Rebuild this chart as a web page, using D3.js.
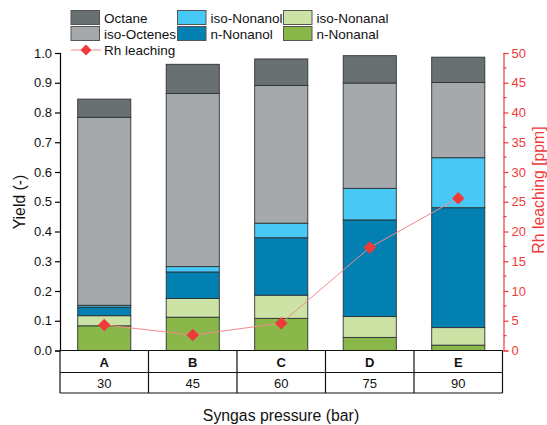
<!DOCTYPE html>
<html>
<head>
<meta charset="utf-8">
<script src="https://cdn.jsdelivr.net/npm/d3@7"></script>
<style>
  html, body { margin: 0; padding: 0; background: #fff; }
  svg { display: block; font-family: "Liberation Sans", Arial, sans-serif; }
</style>
</head>
<body>
<svg id="chart" width="547" height="425"></svg>
<script>
// Catalysts and their syngas pressure
const catalysts = ["A", "B", "C", "D", "E"];
const pressures = ["30", "45", "60", "75", "90"];

// Product yields per catalyst (stacked from bottom to top)
const nNonanal   = [0.083, 0.112, 0.108, 0.044, 0.018];
const isoNonanal = [0.034, 0.063, 0.078, 0.070, 0.059];
const nNonanol   = [0.029, 0.089, 0.193, 0.325, 0.403];
const isoNonanol = [0.006, 0.018, 0.049, 0.106, 0.168];
const isoOctenes = [0.632, 0.582, 0.463, 0.354, 0.253];
const octane     = [0.061, 0.098, 0.089, 0.092, 0.085];

// Rh leaching in ppm
const rhLeaching = [4.3, 2.6, 4.6, 17.3, 25.6];

const yieldTicks = [0, 0.1, 0.2, 0.3, 0.4, 0.5, 0.6, 0.7, 0.8, 0.9, 1.0];
const rhTicks = [0, 5, 10, 15, 20, 25, 30, 35, 40, 45, 50];

const seriesKeys = ["n-Nonanal", "iso-Nonanal", "n-Nonanol", "iso-Nonanol", "iso-Octenes", "Octane"];
const seriesValues = [nNonanal, isoNonanal, nNonanol, isoNonanol, isoOctenes, octane];
const colors = {
  "Octane": "#687072",
  "iso-Octenes": "#a5a9ac",
  "iso-Nonanol": "#48c9f5",
  "n-Nonanol": "#0180b1",
  "iso-Nonanal": "#cde2a5",
  "n-Nonanal": "#8ab74a"
};
const red = "#f03a3a";

const rows = catalysts.map((c, i) => {
  const row = { cat: c };
  seriesKeys.forEach((k, j) => { row[k] = seriesValues[j][i]; });
  return row;
});

const svg = d3.select("#chart");
const plotLeft = 60, plotRight = 502.5, plotTop = 53, plotBottom = 350.5;

const x = d3.scaleBand().domain(catalysts).range([plotLeft, plotRight]).paddingInner(0.4).paddingOuter(0.2);
const y = d3.scaleLinear().domain([0, 1]).range([plotBottom, plotTop]);
const yR = d3.scaleLinear().domain([0, 50]).range([plotBottom, plotTop]);
const cx = c => x(c) + x.bandwidth() / 2;

// Stacked bars
const stacked = d3.stack().keys(seriesKeys)(rows);
svg.append("g").selectAll("g").data(stacked).join("g")
  .attr("fill", d => colors[d.key])
  .selectAll("rect").data(d => d).join("rect")
  .attr("x", d => x(d.data.cat))
  .attr("width", x.bandwidth())
  .attr("y", d => y(d[1]))
  .attr("height", d => y(d[0]) - y(d[1]))
  .attr("stroke", "#2e3436")
  .attr("stroke-width", 0.9);

// Left axis
const yAxis = svg.append("g").attr("transform", `translate(${plotLeft},0)`)
  .call(d3.axisLeft(y).tickValues(yieldTicks).tickFormat(d3.format(".1f")).tickSizeOuter(0).tickSize(5));
yAxis.select(".domain").attr("stroke", "#000").attr("stroke-width", 1.2);
yAxis.selectAll(".tick line").attr("stroke", "#000").attr("stroke-width", 1.2);
yAxis.selectAll("text").attr("font-size", 13).attr("fill", "#111").attr("x", -8)
  .attr("font-family", "Liberation Sans, Arial, sans-serif");

// Right axis (Rh leaching)
const rAxisX = 503.5;
const rAxis = svg.append("g").attr("transform", `translate(${rAxisX},0)`)
  .call(d3.axisRight(yR).tickValues(rhTicks).tickSizeOuter(0).tickSize(5));
rAxis.select(".domain").attr("stroke", red).attr("stroke-width", 1.2);
rAxis.selectAll(".tick line").attr("stroke", red).attr("stroke-width", 1.2);
rAxis.selectAll("text").attr("font-size", 13).attr("fill", red).attr("x", 8)
  .attr("font-family", "Liberation Sans, Arial, sans-serif");
// minor ticks
const minor = d3.range(2.5, 50, 5);
svg.append("g").selectAll("line").data(minor).join("line")
  .attr("x1", rAxisX).attr("x2", rAxisX + 3)
  .attr("y1", d => yR(d)).attr("y2", d => yR(d))
  .attr("stroke", red).attr("stroke-width", 1.2);

// Category table below the plot
const rowMid = 372.5, tableBottom = 393;
const tbl = svg.append("g").attr("stroke", "#111").attr("stroke-width", 1.2);
[plotBottom, rowMid, tableBottom].forEach(yy => {
  tbl.append("line").attr("x1", plotLeft).attr("x2", plotRight).attr("y1", yy).attr("y2", yy);
});
const step = (plotRight - plotLeft) / catalysts.length;
d3.range(catalysts.length + 1).forEach(i => {
  tbl.append("line").attr("x1", plotLeft + i * step).attr("x2", plotLeft + i * step)
    .attr("y1", plotBottom).attr("y2", tableBottom);
});
svg.append("g").selectAll("text").data(catalysts).join("text")
  .attr("x", d => cx(d)).attr("y", 366.5)
  .attr("text-anchor", "middle").attr("font-size", 13).attr("font-weight", "bold").attr("fill", "#111")
  .text(d => d);
svg.append("g").selectAll("text").data(pressures).join("text")
  .attr("x", (d, i) => cx(catalysts[i])).attr("y", 387.5)
  .attr("text-anchor", "middle").attr("font-size", 13).attr("fill", "#111")
  .text(d => d);

// Rh leaching line with diamond markers
const line = d3.line().x((d, i) => cx(catalysts[i])).y(d => yR(d));
svg.append("path").datum(rhLeaching).attr("d", line)
  .attr("fill", "none").attr("stroke", "#f58a8a").attr("stroke-width", 1);
svg.append("g").selectAll("path").data(rhLeaching).join("path")
  .attr("d", d3.symbol().type(d3.symbolSquare).size(78))
  .attr("transform", (d, i) => `translate(${cx(catalysts[i])},${yR(d)}) rotate(45)`)
  .attr("fill", red);

// Axis titles
svg.append("text").attr("transform", "translate(25,202) rotate(-90)")
  .attr("text-anchor", "middle").attr("font-size", 15.8).attr("fill", "#111").text("Yield (-)");
svg.append("text").attr("transform", "translate(544,190) rotate(-90)")
  .attr("text-anchor", "middle").attr("font-size", 15.8).attr("fill", red).text("Rh leaching [ppm]");
svg.append("text").attr("x", 281).attr("y", 421)
  .attr("text-anchor", "middle").attr("font-size", 15.8).attr("fill", "#111").text("Syngas pressure (bar)");

// Legend
const legendItems = [
  { key: "Octane", col: 0, row: 0 },
  { key: "iso-Octenes", col: 0, row: 1 },
  { key: "iso-Nonanol", col: 1, row: 0 },
  { key: "n-Nonanol", col: 1, row: 1 },
  { key: "iso-Nonanal", col: 2, row: 0 },
  { key: "n-Nonanal", col: 2, row: 1 }
];
const colX = [71, 177.5, 283.5];
const rowY = [10.5, 26.5];
const lg = svg.append("g");
legendItems.forEach(it => {
  lg.append("rect").attr("x", colX[it.col]).attr("y", rowY[it.row]).attr("width", 28.5).attr("height", 14)
    .attr("fill", colors[it.key]).attr("stroke", "#555").attr("stroke-width", 1);
  lg.append("text").attr("x", colX[it.col] + 33).attr("y", rowY[it.row] + 12)
    .attr("font-size", 13.5).attr("fill", "#111").text(it.key);
});
lg.append("line").attr("x1", 71).attr("x2", 101).attr("y1", 50).attr("y2", 50)
  .attr("stroke", "#f58a8a").attr("stroke-width", 1);
lg.append("path").attr("d", d3.symbol().type(d3.symbolSquare).size(60)())
  .attr("transform", "translate(86,50) rotate(45)").attr("fill", red);
lg.append("text").attr("x", 104).attr("y", 54.5).attr("font-size", 13.5).attr("fill", "#111").text("Rh leaching");
</script>
</body>
</html>
